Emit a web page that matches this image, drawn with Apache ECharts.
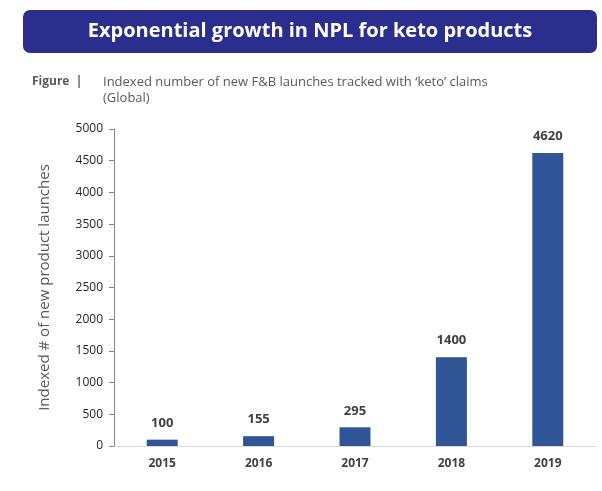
<!DOCTYPE html>
<html>
<head>
<meta charset="utf-8">
<script src="https://cdn.jsdelivr.net/npm/echarts@6/dist/echarts.min.js"></script>
<style>
  html, body { margin: 0; padding: 0; background: #fff; }
  #main { width: 602px; height: 491px; }
</style>
</head>
<body>
<div id="main"></div>
<script>
  var years = ['2015', '2016', '2017', '2018', '2019'];
  var launches = [100, 155, 295, 1400, 4620];

  var myChart = echarts.init(document.getElementById('main'));

  var option = {
    backgroundColor: '#fff',
    textStyle: { fontFamily: 'Open Sans' },
    graphic: [
      {
        type: 'rect',
        shape: { x: 23, y: 10, width: 574, height: 43, r: 7 },
        style: { fill: '#2B2E8C' }
      },
      {
        type: 'text',
        x: 310, y: 31,
        style: {
          text: 'Exponential growth in NPL for keto products',
          fill: '#fff', font: 'bold 20px "Open Sans"',
          align: 'center', verticalAlign: 'middle'
        }
      },
      {
        type: 'text',
        x: 32, y: 82,
        style: {
          text: 'Figure  |',
          fill: '#595959', font: 'bold 12px "Open Sans"',
          verticalAlign: 'middle'
        }
      },
      {
        type: 'text',
        x: 103, y: 90,
        style: {
          text: 'Indexed number of new F&B launches tracked with \u2018keto\u2019 claims\n(Global)',
          fill: '#595959', font: '13px "Open Sans"', lineHeight: 16,
          verticalAlign: 'middle'
        }
      }
    ],
    grid: { left: 114, right: 6, top: 129, bottom: 45 },
    xAxis: {
      type: 'category',
      data: years,
      axisLine: { lineStyle: { color: '#D9D9D9' } },
      axisTick: { show: false },
      axisLabel: { color: '#404040', fontWeight: 'bold', fontSize: 12, margin: 12 }
    },
    yAxis: {
      type: 'value',
      min: 0, max: 5000, interval: 500,
      name: 'Indexed # of new product launches',
      nameLocation: 'middle',
      nameGap: 62,
      nameTextStyle: { color: '#595959', fontSize: 15 },
      axisLine: { show: true, lineStyle: { color: '#868686' } },
      axisTick: { show: true, length: 5, lineStyle: { color: '#868686' } },
      splitLine: { show: false },
      axisLabel: {
        color: '#262626', fontSize: 12, margin: 11,
        formatter: function (v) { return String(v); }
      }
    },
    series: [{
      type: 'bar',
      data: launches,
      barWidth: 31,
      itemStyle: { color: '#2F5597' },
      label: {
        show: true, position: 'top', distance: 10,
        color: '#404040', fontWeight: 'bold', fontSize: 13
      }
    }]
  };

  myChart.setOption(option);
</script>
</body>
</html>
